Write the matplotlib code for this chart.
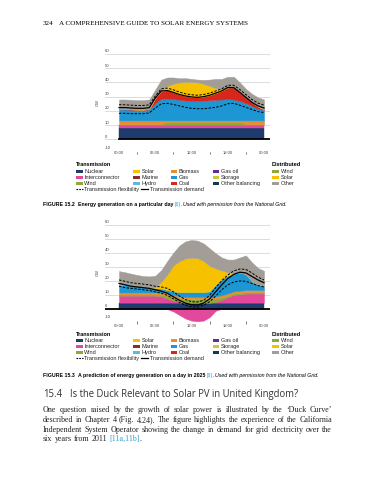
import numpy as np
import matplotlib.pyplot as plt

W, H = 388, 480

hours = np.arange(25)
tick_hours = [0, 6, 12, 18, 24]
tick_labels = ["00:00", "06:00", "12:00", "18:00", "00:00"]
y_levels = [60, 50, 40, 30, 20, 10, 0, -10]

# Figure 15.2 - one day (GW, layer thickness per hour)
nuclear_1 = [8.0, 8.0, 8.0, 8.0, 8.0, 8.0, 8.0, 8.0, 8.0, 8.0, 8.0, 8.0, 8.0, 8.0, 8.0, 8.0, 8.0, 8.0, 8.0, 8.0, 8.0, 8.0, 8.0, 8.0, 8.0]
inter_1 = [2.3, 2.3, 2.3, 2.3, 2.3, 2.3, 2.3, 2.3, 2.3, 2.3, 2.3, 2.3, 2.3, 2.3, 2.3, 2.3, 2.3, 2.3, 2.3, 2.3, 2.3, 2.3, 2.3, 2.3, 2.3]
wind_1 = [0.4, 0.4, 0.4, 0.4, 0.4, 0.4, 0.4, 0.4, 2.0, 2.0, 2.0, 2.0, 2.0, 2.0, 2.0, 2.0, 2.0, 2.0, 2.0, 2.0, 2.0, 0.4, 0.4, 0.4, 0.4]
biomass_1 = [2.6, 2.6, 2.6, 2.6, 2.6, 2.6, 2.6, 2.6, 1.0, 1.0, 1.0, 1.0, 1.0, 1.0, 1.0, 1.0, 1.0, 1.0, 1.0, 1.0, 1.0, 2.6, 2.6, 2.6, 2.6]
gas_1 = [7.7, 7.7, 7.5, 7.3, 7.3, 7.7, 12.2, 15.2, 15.3, 15.0, 14.5, 14.0, 13.7, 13.7, 13.9, 14.2, 14.5, 14.7, 15.0, 14.7, 13.7, 12.2, 10.2, 8.2, 7.3]
coal_1 = [0.3, 0.3, 0.3, 0.3, 0.3, 0.3, 3.5, 5.5, 5.9, 4.7, 3.7, 3.2, 2.8, 2.5, 2.8, 3.5, 4.7, 6.0, 8.2, 8.5, 6.0, 4.0, 2.5, 1.5, 0.4]
solar_1 = [0, 0, 0, 0, 0, 0, 0, 0.8, 3.0, 6.0, 8.5, 10.0, 10.5, 10.5, 9.0, 6.5, 3.5, 1.0, 0, 0, 0, 0, 0, 0, 0]
other_1 = [6.7, 6.7, 6.7, 6.6, 6.6, 6.7, 6.0, 7.2, 6.0, 4.5, 3.0, 2.5, 2.2, 2.0, 2.8, 4.5, 6.5, 7.5, 7.5, 7.5, 7.0, 6.0, 6.0, 6.5, 7.0]
demand_1 = [22.3, 22.3, 22.0, 21.8, 21.8, 22.2, 29.0, 34.0, 34.3, 33.0, 31.5, 30.5, 29.8, 29.5, 30.0, 31.0, 32.5, 34.0, 36.5, 36.3, 33.0, 29.5, 26.0, 23.5, 22.0]
flex_hi_1 = [24.3, 24.3, 24.0, 23.8, 23.8, 24.2, 30.5, 35.5, 36.0, 34.8, 33.2, 32.0, 31.3, 31.0, 31.5, 32.5, 34.0, 35.5, 38.0, 38.0, 35.0, 31.5, 28.0, 25.5, 24.0]
flex_lo_1 = [18.3, 18.3, 18.0, 18.0, 18.0, 18.5, 22.0, 25.0, 25.3, 24.5, 23.5, 22.5, 21.8, 21.5, 21.5, 22.0, 22.5, 23.5, 25.0, 25.3, 24.0, 22.5, 21.0, 19.5, 18.8]

# Figure 15.3 - a day in 2025
nuclear_2 = [4.3, 4.3, 4.3, 4.3, 4.3, 4.3, 4.3, 4.3, 4.3, 4.3, 4.3, 4.3, 4.3, 4.3, 4.3, 4.3, 4.3, 4.3, 4.3, 4.3, 4.3, 4.3, 4.3, 4.3, 4.3]
inter_2 = [5.0, 5.0, 5.0, 5.0, 5.0, 5.0, 5.0, 4.5, 3.0, 1.5, 0.5, 0, 0, 0, 0, 0, 0.5, 2.0, 4.0, 5.5, 6.0, 6.5, 6.5, 6.5, 6.5]
export_2 = [0, 0, 0, 0, 0, 0, 0, 0, -0.3, -2.0, -4.5, -7.0, -8.5, -9.0, -8.5, -6.0, -1.5, 0, 0, 0, 0, 0, 0, 0, 0]
wind_2 = [0.8, 0.8, 0.8, 0.8, 0.8, 0.8, 0.8, 1.2, 2.0, 2.5, 2.5, 2.5, 2.5, 2.5, 2.5, 2.5, 2.5, 1.8, 1.0, 1.0, 1.0, 1.0, 1.0, 1.0, 1.0]
biomass_2 = [1.5, 1.5, 1.5, 1.5, 1.5, 1.5, 1.5, 1.5, 1.5, 1.5, 1.5, 1.5, 1.5, 1.5, 1.5, 1.5, 1.5, 1.5, 1.5, 1.5, 1.5, 1.5, 1.5, 1.5, 1.5]
gas_2 = [5.4, 5.2, 4.9, 4.5, 4.0, 3.3, 3.0, 2.8, 2.5, 2.5, 3.0, 3.5, 3.5, 3.5, 3.5, 4.0, 8.2, 11.4, 12.7, 12.7, 13.1, 11.2, 6.2, 4.0, 3.1]
solar_2 = [0, 0, 0, 0, 0, 0, 0.5, 5.0, 11.0, 18.5, 22.0, 24.0, 24.5, 24.2, 22.2, 18.2, 11.7, 6.2, 2.5, 0.3, 0, 0, 0, 0, 0]
other_2 = [9.8, 9.2, 8.5, 7.9, 7.7, 8.1, 8.4, 8.2, 9.7, 9.2, 11.2, 12.2, 12.7, 12.5, 12.5, 12.5, 10.8, 9.3, 9.0, 9.7, 10.6, 13.5, 13.5, 11.7, 10.6]
demand_2 = [18.0, 17.0, 16.0, 15.5, 15.0, 14.5, 13.5, 12.5, 11.0, 8.5, 6.0, 4.0, 2.8, 2.6, 4.0, 7.0, 12.0, 17.0, 21.5, 24.5, 26.0, 25.5, 23.0, 20.5, 18.5]
flex_hi_2 = [20.5, 19.5, 18.5, 18.0, 17.5, 17.0, 16.0, 15.5, 14.5, 12.0, 9.0, 6.5, 5.0, 4.8, 6.0, 9.5, 15.0, 20.0, 24.0, 27.0, 28.3, 28.0, 25.5, 22.5, 20.5]
flex_lo_2 = [16.0, 15.0, 14.5, 14.0, 13.5, 13.0, 12.0, 11.0, 9.5, 7.0, 4.5, 2.5, 1.3, 1.2, 2.5, 5.0, 9.0, 13.5, 17.0, 19.0, 19.8, 19.5, 18.0, 16.5, 15.5]

# colours ------------------------------------------------------------------
NAVY, PINK, OLIVE = "#1d3b6e", "#e2489c", "#8ea83c"
YELLOW, MAROON, LBLUE = "#f6c200", "#8c2b2b", "#5bbad8"
ORANGE, BLUE, RED = "#e98f2d", "#1c97d4", "#d8261c"
PURPLE, LIME, TEAL = "#6a2c8c", "#c7c93a", "#0e3e4e"
GREY = "#a39d97"
LINK = "#2a9fd8"

SANS = "Liberation Sans"
SERIF = "Liberation Serif"

fig = plt.figure(figsize=(W / 100, H / 100), dpi=100)
page = fig.add_axes([0, 0, 1, 1])
page.set_xlim(0, W)
page.set_ylim(H, 0)
page.axis("off")
renderer = fig.canvas.get_renderer()


def width_of(t):
    return t.get_window_extent(renderer=renderer).width


def put_runs(x, y, runs, size, family):
    texts = []
    for s, kw in runs:
        if s == " ":
            x += 0.27 * size * 100 / 72
            continue
        t = page.text(x, y, s, fontsize=size, family=family, va="baseline", ha="left", **kw)
        texts.append(t)
        x += width_of(t)
    return x, texts


def fitted_runs(x0, x1, y_mid, runs, family):
    # draw once at size 10, then redraw scaled to span x0..x1
    end, texts = put_runs(x0, y_mid, runs, 10, family)
    for t in texts:
        t.remove()
    size = 10 * (x1 - x0) / (end - x0)
    put_runs(x0, y_mid + 0.33 * size * 100 / 72, runs, size, family)


def chart(top_px, zero_px, layers, lines, export=None, label_y=-11.0, zero_from=-2.32):
    unit = (zero_px - top_px) / 60
    bottom_px = zero_px + 12 * unit
    ax = fig.add_axes([105 / W, 1 - bottom_px / H, 165 / W, (bottom_px - top_px) / H])
    ax.set_xlim(-2.32, 24.99)
    ax.set_ylim(-12, 60)
    ax.axis("off")

    for v in y_levels[:-1]:
        ax.axhline(v, color="#cfcfcf", lw=0.5, zorder=0)
    for v in y_levels:
        yy = v + 0.4 if v > -10 else -7.3
        ax.text(-2.32, yy, str(v), fontsize=3.1, family=SANS, color="#444444", ha="left", va="bottom")
    ax.text(-3.5, 26, "GW", fontsize=2.9, family=SANS, color="#444444", rotation=90, ha="center", va="center")

    base = np.zeros(len(hours))
    for vals, col in layers:
        top = base + np.array(vals)
        ax.fill_between(hours, base, top, color=col, lw=0.3, ec=col, zorder=2)
        base = top
    if export is not None:
        ax.fill_between(hours, 0, export, color=PINK, lw=0.3, ec=PINK, zorder=2)

    ax.plot([zero_from, 24.99], [0, 0], color="black", lw=1.3, zorder=3)

    hi, lo, dem = lines
    ax.plot(hours, hi, color="black", lw=0.7, ls=(0, (2.5, 1.5)), zorder=4)
    ax.plot(hours, lo, color="black", lw=0.7, ls=(0, (2.5, 1.5)), zorder=4)
    ax.plot(hours, dem, color="black", lw=0.9, zorder=4)

    for h, lbl in zip(tick_hours, tick_labels):
        ax.text(h, label_y, lbl, fontsize=3.0, family=SANS, color="#444444", ha="center", va="center")
    ax.vlines([3, 9, 15, 21], -10.6, -9.0, color="#444444", lw=0.5)
    return ax


def legend(y0):
    page.text(75.7, y0, "Transmission", fontsize=4.0, family=SANS, weight="bold", va="center", ha="left")
    page.text(271.7, y0, "Distributed", fontsize=4.0, family=SANS, weight="bold", va="center", ha="left")
    cols = [
        (76, [("Nuclear", NAVY), ("Interconnector", PINK), ("Wind", OLIVE)]),
        (133, [("Solar", YELLOW), ("Marine", MAROON), ("Hydro", LBLUE)]),
        (170.5, [("Biomass", ORANGE), ("Gas", BLUE), ("Coal", RED)]),
        (212.5, [("Gas oil", PURPLE), ("Storage", LIME), ("Other balancing", TEAL)]),
        (272.3, [("Wind", OLIVE), ("Solar", YELLOW), ("Other", GREY)]),
    ]
    for x, items in cols:
        for i, (name, col) in enumerate(items):
            y = y0 + 6.1 * (i + 1)
            page.add_patch(plt.Rectangle((x, y - 1.5), 6.8, 3.0, color=col, lw=0))
            page.text(x + 8.3, y, name, fontsize=4.0, family=SANS, color="#222222", va="center", ha="left")
    y = y0 + 6.1 * 4
    page.plot([76, 83], [y, y], color="black", lw=0.8, ls=(0, (1.5, 1.0)))
    page.text(84.3, y, "Transmission flexibility", fontsize=4.0, family=SANS, color="#222222", va="center", ha="left")
    page.plot([141, 148], [y, y], color="black", lw=0.9)
    page.text(150.5, y, "Transmission demand", fontsize=4.0, family=SANS, color="#222222", va="center", ha="left")


# page header ---------------------------------------------------------------
fitted_runs(43, 252, 23, [("324", {}), (" ", {}), (" ", {}), (" ", {}),
                          ("A COMPREHENSIVE GUIDE TO SOLAR ENERGY SYSTEMS", {})], SERIF)

# Figure 15.2 ----------------------------------------------------------------
chart(54, 139.3,
      [(nuclear_1, NAVY), (inter_1, PINK), (wind_1, OLIVE), (biomass_1, ORANGE),
       (gas_1, BLUE), (coal_1, RED), (solar_1, YELLOW), (other_1, GREY)],
      (flex_hi_1, flex_lo_1, demand_1), label_y=-9.6, zero_from=0)
legend(165)
fitted_runs(43, 287, 204.7,
            [("FIGURE 15.2", {"weight": "bold"}), (" ", {}), (" ", {}),
             ("Energy generation on a particular day", {"weight": "bold"}), (" ", {}),
             ("[6]", {"color": LINK}), (".", {}), (" ", {}),
             ("Used with permission from the National Grid.", {"style": "italic"})], SANS)

# Figure 15.3 ----------------------------------------------------------------
chart(224.5, 308.7,
      [(nuclear_2, NAVY), (inter_2, PINK), (wind_2, OLIVE), (biomass_2, ORANGE),
       (gas_2, BLUE), (solar_2, YELLOW), (other_2, GREY)],
      (flex_hi_2, flex_lo_2, demand_2), export=export_2, label_y=-12.5)
legend(334)
fitted_runs(43, 318, 375.7,
            [("FIGURE 15.3", {"weight": "bold"}), (" ", {}), (" ", {}),
             ("A prediction of energy generation on a day in 2025", {"weight": "bold"}), (" ", {}),
             ("[6]", {"color": LINK}), (".", {}), (" ", {}),
             ("Used with permission from the National Grid.", {"style": "italic"})], SANS)

# section heading -------------------------------------------------------------
fitted_runs(43, 300, 394.3,
            [("15.4", {"color": "#333333"}), (" ", {}), (" ", {}), (" ", {}),
             ("Is the Duck Relevant to Solar PV in United Kingdom?", {"color": "#333333"})], "Open Sans")

# body text (justified) --------------------------------------------------------
para = [
    "One question raised by the growth of solar power is illustrated by the \u2018Duck Curve\u2019",
    "described in Chapter 4 (Fig. 4.24). The figure highlights the experience of the California",
    "Independent System Operator showing the change in demand for grid electricity over the",
]
line_y = [410, 419.7, 429.3, 438.7]
X0, X1 = 43, 332
probe = [page.text(0, 0, s, fontsize=10, family=SERIF) for s in para]
size = 10 * (X1 - X0) / max(width_of(t) for t in probe) * 0.985
for t in probe:
    t.remove()
for s, yc in zip(para, line_y):
    words = s.split()
    yb = yc + 0.3 * size * 100 / 72
    texts = [page.text(0, yb, w, fontsize=size, family=SERIF, color="#222222", va="baseline") for w in words]
    widths = [width_of(t) for t in texts]
    gap = (X1 - X0 - sum(widths)) / (len(words) - 1)
    x = X0
    for t, w in zip(texts, widths):
        t.set_x(x)
        x += w + gap
put_runs(X0, line_y[3] + 0.3 * size * 100 / 72,
         [("six", {"color": "#222222"}), (" ", {}), ("years", {"color": "#222222"}), (" ", {}),
          ("from", {"color": "#222222"}), (" ", {}), ("2011", {"color": "#222222"}), (" ", {}),
          ("[11a,11b]", {"color": LINK}), (".", {"color": "#222222"})], size, SERIF)

fig.savefig("out.png", dpi=100)
